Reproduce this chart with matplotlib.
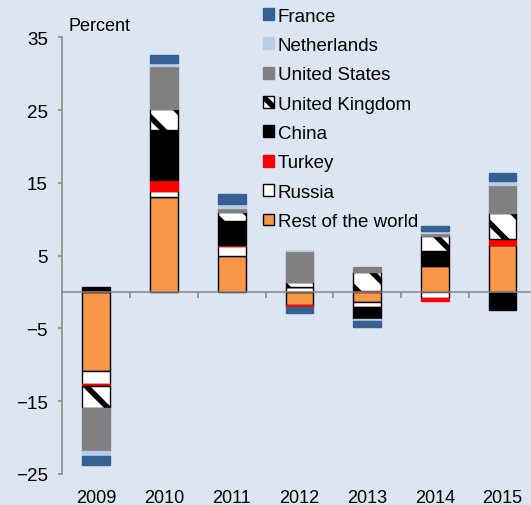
import numpy as np
import matplotlib
matplotlib.use('Agg')
import matplotlib.pyplot as plt

# Contributions by country, percent
years = ['2009', '2010', '2011', '2012', '2013', '2014', '2015']
france = [-1.2, 1.1, 1.45, -0.9, -0.9, 0.7, 1.0]
netherlands = [-0.7, 0.4, 0.5, 0.0, -0.2, 0.2, 0.6]
united_states = [-5.9, 6.0, 0.6, 4.2, 0.8, 0.5, 3.85]
united_kingdom = [-3.0, 2.8, 1.2, 0.75, 2.55, 2.05, 3.55]
china = [0.7, 6.9, 3.25, 0.0, -1.7, 2.05, -2.4]
turkey = [-0.3, 1.5, 0.2, -0.15, 0.15, -0.45, 0.8]
russia = [-1.8, 0.9, 1.4, 0.65, -0.7, -0.8, 0.0]
rest_of_world = [-10.8, 13.0, 4.9, -1.85, -1.35, 3.55, 6.5]

yticks = [-25, -15, -5, 5, 15, 25, 35]

BG = '#dce6f2'
GRAY = '#868686'

plt.rcParams['font.family'] = ['Liberation Sans', 'DejaVu Sans']
plt.rcParams['hatch.linewidth'] = 4.0

# stacking order, bottom to top: (label, values, face, edge, hatch)
series = [
    ('Rest of the world', rest_of_world, '#f79646', 'black', None),
    ('Russia', russia, 'white', 'black', None),
    ('Turkey', turkey, '#ff0000', '#ff0000', None),
    ('China', china, 'black', 'black', None),
    ('United Kingdom', united_kingdom, 'white', 'black', '\\'),
    ('United States', united_states, '#808080', '#808080', None),
    ('Netherlands', netherlands, '#b9cde5', '#b9cde5', None),
    ('France', france, '#376092', '#376092', None),
]

fig = plt.figure(figsize=(5.31, 5.06), dpi=100, facecolor=BG)
ax = fig.add_axes([0.1177, 0.0613, 0.8823, 0.863])
ax.set_facecolor(BG)

x = np.arange(len(years))
pos = np.zeros(len(years))
neg = np.zeros(len(years))
handles = {}
for label, vals, face, edge, hatch in series:
    v = np.array(vals)
    bottom = np.where(v >= 0, pos, neg)
    bars = ax.bar(x, v, width=0.41, bottom=bottom, color=face, edgecolor=edge,
                  linewidth=1.0, hatch=hatch, label=label)
    handles[label] = bars
    pos = pos + np.where(v > 0, v, 0)
    neg = neg + np.where(v < 0, v, 0)

ax.set_ylim(-25, 35)
ax.set_xlim(-0.5, -0.5 + 468.5 / 67.7)
ax.set_yticks(yticks)

for s in ('top', 'right'):
    ax.spines[s].set_visible(False)
ax.spines['left'].set_color(GRAY)
ax.spines['left'].set_linewidth(1.1)
ax.spines['bottom'].set_position(('data', 0))
ax.spines['bottom'].set_color(GRAY)
ax.spines['bottom'].set_linewidth(1.1)

ax.tick_params(axis='y', direction='out', length=3, width=1.1, color=GRAY,
               pad=7.5, labelsize=13.5, labelcolor='black')
ax.set_xticks(np.arange(0.5, 6.5, 1))
ax.set_xticklabels([])
ax.tick_params(axis='x', direction='out', length=4, width=1.1, color=GRAY)

sec = ax.secondary_xaxis('bottom')
sec.set_xticks(x, labels=years)
sec.tick_params(length=0, pad=10.5, labelsize=13)
sec.spines['bottom'].set_visible(False)

ax.text(0.0124, 1.0167, 'Percent', transform=ax.transAxes, fontsize=13,
        ha='left', va='baseline')

order = ['France', 'Netherlands', 'United States', 'United Kingdom', 'China',
         'Turkey', 'Russia', 'Rest of the world']
fig.legend([handles[k] for k in order], order, loc='upper left',
           bbox_to_anchor=(263.3 / 531, 1 - 8.5 / 506), bbox_transform=fig.transFigure,
           frameon=False, fontsize=13.5, borderpad=0, borderaxespad=0,
           handlelength=0.59, handleheight=0.59, handletextpad=0.18,
           labelspacing=0.66)

fig.savefig('out.png', dpi=100, facecolor=BG)
